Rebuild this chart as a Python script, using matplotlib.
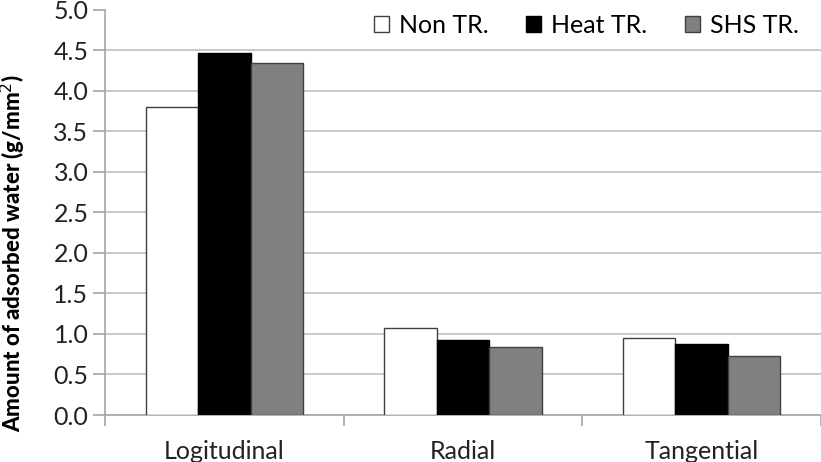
import numpy as np
import matplotlib
matplotlib.use("Agg")
import matplotlib.pyplot as plt

plt.rcParams['font.family'] = ['Lato', 'DejaVu Sans']

categories = ['Logitudinal', 'Radial', 'Tangential']
series_names = ['Non TR.', 'Heat TR.', 'SHS TR.']
non_tr = [3.80, 1.07, 0.945]
heat_tr = [4.47, 0.925, 0.88]
shs_tr = [4.34, 0.84, 0.73]
yticks = [0.0, 0.5, 1.0, 1.5, 2.0, 2.5, 3.0, 3.5, 4.0, 4.5, 5.0]

fig = plt.figure(figsize=(8.21, 4.62), dpi=100)
ax = fig.add_axes([0.128, 0.1017, 0.872, 0.877])

x = np.arange(len(categories))
w = 0.22
axis_col = '#a6a6a6'
ax.bar(x - w, non_tr, w, color='white', edgecolor='#404040', linewidth=1.0, label=series_names[0], zorder=3)
ax.bar(x, heat_tr, w, color='black', edgecolor='black', linewidth=1.0, label=series_names[1], zorder=3)
ax.bar(x + w, shs_tr, w, color='#808080', edgecolor='#404040', linewidth=1.0, label=series_names[2], zorder=3)

ax.set_xlim(-0.5, len(categories) - 0.5)
ax.set_ylim(0, 5.0)
ax.set_yticks(yticks)
ax.set_yticklabels([f'{v:.1f}' for v in yticks], fontsize=18, color='#222222')
ax.set_xticks(x)
ax.set_xticklabels(categories, fontsize=18, color='#222222')
ax.tick_params(axis='x', length=0, pad=18)
ax.tick_params(axis='y', length=9, color=axis_col, width=1.2, pad=3)
ax.set_xticks(np.arange(len(categories) + 1) - 0.5, minor=True)
ax.tick_params(axis='x', which='minor', length=8, color=axis_col, width=1.2)

ax.grid(axis='y', color='#bfbfbf', linewidth=1.2, zorder=0)
ax.get_ygridlines()[-1].set_visible(False)
ax.set_axisbelow(True)
for s in ['top', 'right']:
    ax.spines[s].set_visible(False)
for s in ['left', 'bottom']:
    ax.spines[s].set_color(axis_col)
    ax.spines[s].set_linewidth(1.2)

ax.set_ylabel('Amount of adsorbed water (g/mm$^2$)', fontsize=16, fontweight='black')
ax.yaxis.set_label_coords(-0.108, 0.40)

ax.legend(loc='upper right', bbox_to_anchor=(1.0, 1.045), ncol=3, frameon=False, fontsize=18,
          handlelength=0.6, handleheight=0.6, handletextpad=0.4, columnspacing=1.5)

fig.savefig('out.png', dpi=100)
